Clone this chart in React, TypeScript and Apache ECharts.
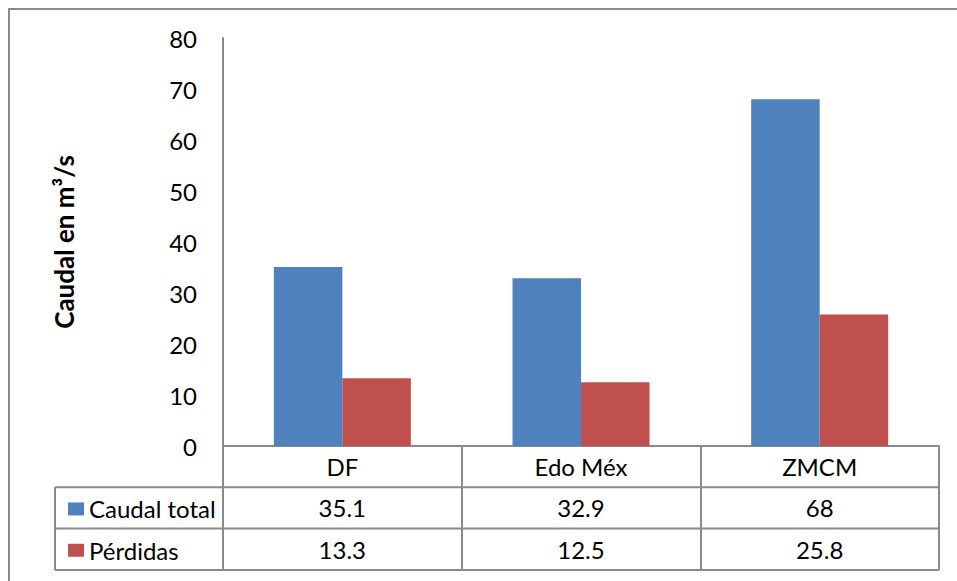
import React, { useEffect, useRef } from "react";
import * as echarts from "echarts";

// Data
const categories = ["DF", "Edo Méx", "ZMCM"];
const seriesNames = ["Caudal total", "Pérdidas"];
const caudalTotal = [35.1, 32.9, 68];
const perdidas = [13.3, 12.5, 25.8];
const yMin = 0;
const yMax = 80;
const yStep = 10;
const yTitle = "Caudal en m³/s";

// Layout
const W = 957;
const H = 581;
const GRID = { left: 223, right: 18, top: 38, bottom: 135 };
const ROW_H = 41.3;
const TABLE_LEFT = 55;
const FONT = "Lato, 'Noto Sans', sans-serif";
const FONT_SIZE = 24;
const LINE = "#8a8a8a";
const COLORS = ["#4F81BD", "#C0504D"];

export default function App() {
  const ref = useRef<HTMLDivElement>(null);

  useEffect(() => {
    if (!ref.current) return;
    const chart = echarts.init(ref.current, undefined, { renderer: "svg" });

    const axisY = H - GRID.bottom;
    const tableRight = W - GRID.right;
    const rowLines = [1, 2, 3].map((r) => axisY + ROW_H * r);

    const tableGraphics: any[] = [
      // outer chart frame
      {
        type: "rect",
        shape: { x: 9, y: 9, width: W, height: H },
        style: { fill: "none", stroke: LINE, lineWidth: 2 },
        silent: true,
      },
      ...rowLines.map((y) => ({
        type: "line",
        shape: { x1: TABLE_LEFT, y1: y, x2: tableRight, y2: y },
        style: { stroke: LINE, lineWidth: 2 },
        silent: true,
      })),
      {
        type: "line",
        shape: { x1: TABLE_LEFT, y1: rowLines[0], x2: TABLE_LEFT, y2: rowLines[2] },
        style: { stroke: LINE, lineWidth: 2 },
        silent: true,
      },
    ];

    const rowAxis = (values: number[] | null, margin: number, main: boolean) => ({
      type: "category",
      data: categories,
      position: "bottom",
      gridIndex: 0,
      boundaryGap: true,
      axisLine: { show: main, lineStyle: { color: LINE, width: 2 } },
      axisTick: {
        show: main,
        length: ROW_H * 3,
        interval: 0,
        lineStyle: { color: LINE, width: 2 },
      },
      axisLabel: {
        interval: 0,
        margin,
        verticalAlign: "middle",
        fontFamily: FONT,
        fontSize: FONT_SIZE,
        color: "#000",
        formatter: values ? (_v: string, i: number) => String(values[i]) : undefined,
      },
      splitLine: { show: false },
    });

    chart.setOption({
      animation: false,
      backgroundColor: "#fff",
      color: COLORS,
      grid: { ...GRID, containLabel: false },
      legend: {
        orient: "vertical",
        left: 63,
        top: axisY + ROW_H * 1.5 - 18,
        itemWidth: 16,
        itemHeight: 13,
        itemGap: ROW_H - 28,
        icon: "rect",
        selectedMode: false,
        data: seriesNames,
        textStyle: {
          fontFamily: FONT,
          fontSize: FONT_SIZE,
          lineHeight: 28,
          color: "#000",
        },
      },
      xAxis: [
        rowAxis(null, ROW_H / 2, true),
        rowAxis(caudalTotal, ROW_H * 1.5, false),
        rowAxis(perdidas, ROW_H * 2.5, false),
      ],
      yAxis: {
        type: "value",
        min: yMin,
        max: yMax,
        interval: yStep,
        name: yTitle,
        nameLocation: "middle",
        nameRotate: 90,
        nameGap: 146,
        nameTextStyle: {
          fontFamily: FONT,
          fontSize: 26,
          fontWeight: "bold",
          color: "#000",
        },
        axisLine: { show: true, lineStyle: { color: LINE, width: 2 } },
        axisTick: { show: false },
        splitLine: { show: false },
        axisLabel: {
          margin: 26,
          fontFamily: FONT,
          fontSize: FONT_SIZE,
          color: "#000",
        },
      },
      series: [
        {
          name: seriesNames[0],
          type: "bar",
          xAxisIndex: 0,
          data: caudalTotal,
          barWidth: 68.5,
          barGap: "0%",
        },
        {
          name: seriesNames[1],
          type: "bar",
          xAxisIndex: 0,
          data: perdidas,
          barWidth: 68.5,
          barGap: "0%",
        },
      ],
      graphic: tableGraphics,
    });

    return () => chart.dispose();
  }, []);

  return (
    <div
      ref={ref}
      style={{ position: "fixed", left: 0, top: 0, width: W, height: H }}
    />
  );
}
